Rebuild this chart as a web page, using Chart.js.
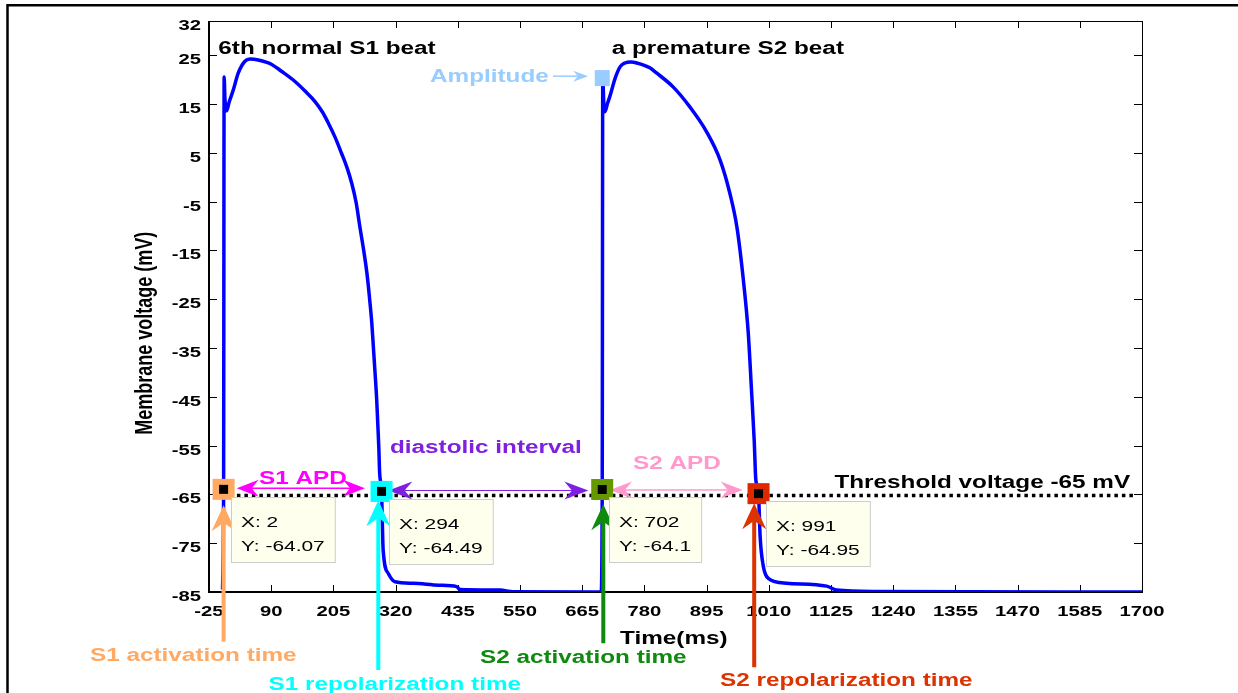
<!DOCTYPE html>
<html>
<head>
<meta charset="utf-8">
<title>Membrane voltage</title>
<script src="https://cdn.jsdelivr.net/npm/chart.js@4.4.1/dist/chart.umd.min.js"></script>
<style>
  html, body { margin: 0; padding: 0; background: #fff; }
  canvas { display: block; }
</style>
</head>
<body>
<canvas id="apChart" width="1238" height="693"></canvas>
<script>
// 6th S1 beat followed by a premature S2 beat
const timeMs = [
  0, 2, 3, 4.5, 7.7, 12, 20, 29, 41, 51, 66, 91, 109, 134, 153, 171, 185, 196, 208, 220,
  230, 239, 247, 254, 261, 267, 272, 276, 279, 282, 285, 287, 289, 290.5, 294, 297, 306.5,
  319, 352, 400, 433, 439, 513, 537, 680,
  700, 702, 703, 705, 707, 712, 716, 726, 735, 744, 755, 766, 790, 803, 833, 864, 895, 920, 938,
  951, 963, 972, 978, 983, 986, 991, 994, 1000, 1009, 1043, 1117, 1135, 1209, 1700
];
const voltage = [
  -84.5, -64.07, 20.5, 16, 13.6, 15.3, 17.9, 21.3, 23.7, 24.2, 24, 23.1, 21.7, 19.6, 17.6,
  15.5, 13.3, 11, 8.2, 4.9, 2, -1.3, -5.2, -10.2, -15, -19.7, -25, -29.9, -35, -40.1, -45.5,
  -50.4, -55.5, -60.6, -64.49, -76.4, -81.2, -82.9, -83.2, -83.6, -83.9, -84.5, -84.6, -84.95, -85,
  -85, -64.1, 20.3, 15, 13.4, 15.2, 16.5, 20.3, 22.6, 23.4, 23.6, 23.4, 22.4, 21.3, 18.5, 14.4, 9.3,
  3.5, -3.3, -10.2, -21.1, -31.9, -43.6, -53.9, -62, -64.95, -73.7, -79.8, -82.2, -83.2, -83.8,
  -84.6, -84.9, -85
];

const xTicks = [-25, 90, 205, 320, 435, 550, 665, 780, 895, 1010, 1125, 1240, 1355, 1470, 1585, 1700];
const yTicks = [32, 25, 15, 5, -5, -15, -25, -35, -45, -55, -65, -75, -85];

// data tips: activation / repolarization readouts
const tipTime = [2, 294, 702, 991];
const tipVolt = [-64.07, -64.49, -64.1, -64.95];
const tipColors = ['#ffa963', '#00ffff', '#669900', '#dd2800'];

const thresholdMv = -65;
const amplitudeIdx = timeMs.indexOf(703);

// annotation layout, in axis units
const labelText = ['S1 activation time', 'S1 repolarization time', 'S2 activation time', 'S2 repolarization time'];
const labelColors = ['#ffa963', '#00ffff', '#0e8a0e', '#dd3300'];
const labelAt = [[-245, -99.1], [85, -105.1], [476, -99.6], [920, -104.3]];
const arrowTime = [2, 288, 704, 983];
const arrowTail = [-95.2, -101, -95.5, -100.4];
const arrowTip = [-67.2, -66.2, -67, -66.8];
const arrowColors = ['#ffa963', '#00ffff', '#0e8a0e', '#dd3300'];

const SX = 1.35;
const FAMILY = '"Liberation Sans", Arial, sans-serif';

function wideText(ctx, str, x, y, font, color, align = 'left', rot = 0) {
  ctx.save();
  ctx.font = font;
  ctx.fillStyle = color;
  ctx.textAlign = align;
  ctx.textBaseline = 'alphabetic';
  ctx.translate(x, y);
  ctx.scale(SX, 1);
  if (rot) ctx.rotate(rot);
  ctx.fillText(str, 0, 0);
  ctx.restore();
}

// notched arrow head, returns the notch point where the shaft should stop
function head(ctx, tx, ty, ux, uy, len, wid) {
  const nx = -uy, ny = ux;
  const bx = tx - ux * len, by = ty - uy * len;
  const kx = tx - ux * len * 0.68, ky = ty - uy * len * 0.68;
  ctx.beginPath();
  ctx.moveTo(tx, ty);
  ctx.lineTo(bx + nx * wid / 2, by + ny * wid / 2);
  ctx.lineTo(kx, ky);
  ctx.lineTo(bx - nx * wid / 2, by - ny * wid / 2);
  ctx.closePath();
  ctx.fill();
  return [kx, ky];
}

function arrow(ctx, x1, y1, x2, y2, color, lw, len, wid, both) {
  const d = Math.hypot(x2 - x1, y2 - y1);
  const ux = (x2 - x1) / d, uy = (y2 - y1) / d;
  ctx.save();
  ctx.fillStyle = color;
  ctx.strokeStyle = color;
  ctx.lineWidth = lw;
  const e = head(ctx, x2, y2, ux, uy, len, wid);
  let s = [x1, y1];
  if (both) s = head(ctx, x1, y1, -ux, -uy, len, wid);
  ctx.beginPath();
  ctx.moveTo(s[0], s[1]);
  ctx.lineTo(e[0], e[1]);
  ctx.stroke();
  ctx.restore();
}

const figurePlugin = {
  id: 'figure',
  beforeDraw(chart) {
    const ctx = chart.ctx;
    ctx.save();
    ctx.fillStyle = '#fff';
    ctx.fillRect(0, 0, chart.width, chart.height);
    // outer figure frame
    ctx.strokeStyle = '#000';
    ctx.lineWidth = 2.5;
    ctx.beginPath();
    ctx.moveTo(7.5, chart.height);
    ctx.lineTo(7.5, 5.3);
    ctx.lineTo(chart.width, 5.3);
    ctx.stroke();
    ctx.restore();
  },
  beforeDatasetsDraw(chart) {
    const ctx = chart.ctx;
    const { left, right, top, bottom } = chart.chartArea;
    const xs = chart.scales.x, ys = chart.scales.y;
    ctx.save();
    // axes box
    ctx.strokeStyle = '#000';
    ctx.lineWidth = 1;
    ctx.strokeRect(left + 0.5, top + 0.5, right - left, bottom - top);
    ctx.lineWidth = 2;
    ctx.beginPath();
    ctx.moveTo(left, top);
    ctx.lineTo(left, bottom);
    ctx.lineTo(right, bottom);
    ctx.stroke();
    // inward ticks
    ctx.lineWidth = 1;
    ctx.beginPath();
    xs.ticks.forEach(t => {
      const x = Math.round(xs.getPixelForValue(t.value)) + 0.5;
      ctx.moveTo(x, bottom); ctx.lineTo(x, bottom - 7);
      ctx.moveTo(x, top); ctx.lineTo(x, top + 7);
    });
    ys.ticks.forEach(t => {
      const y = Math.round(ys.getPixelForValue(t.value)) + 0.5;
      ctx.moveTo(left, y); ctx.lineTo(left + 8, y);
      ctx.moveTo(right, y); ctx.lineTo(right - 8, y);
    });
    ctx.stroke();
    // tick labels
    const tf = 'bold 15px ' + FAMILY;
    xs.ticks.forEach(t => {
      wideText(ctx, String(t.value), xs.getPixelForValue(t.value), bottom + 24, tf, '#000', 'center');
    });
    ys.ticks.forEach(t => {
      wideText(ctx, String(t.value), left - 8, ys.getPixelForValue(t.value) + 9, tf, '#000', 'right');
    });
    // threshold line
    ctx.strokeStyle = '#000';
    ctx.lineWidth = 3.5;
    ctx.setLineDash([3.5, 4]);
    ctx.beginPath();
    const ty = ys.getPixelForValue(thresholdMv) + 1;
    ctx.moveTo(xs.getPixelForValue(-15), ty);
    ctx.lineTo(xs.getPixelForValue(1690), ty);
    ctx.stroke();
    ctx.restore();
  },
  afterDatasetsDraw(chart) {
    const ctx = chart.ctx;
    const xs = chart.scales.x, ys = chart.scales.y;
    const X = v => xs.getPixelForValue(v);
    const Y = v => ys.getPixelForValue(v);
    const big = 'bold 18px ' + FAMILY;

    // axis titles
    wideText(ctx, 'Time(ms)', X(735), Y(-95.6), big, '#000');
    wideText(ctx, 'Membrane voltage (mV)', X(-131), Y(-32), big, '#000', 'center', -Math.PI / 2);

    // beat captions
    wideText(ctx, '6th normal S1 beat', X(-7.8), Y(25.2), big, '#000');
    wideText(ctx, 'a premature S2 beat', X(719.5), Y(25.2), big, '#000');
    wideText(ctx, 'Threshold voltage -65 mV', X(1678), Y(-63.75), big, '#000', 'right');

    // amplitude marker
    ctx.save();
    ctx.fillStyle = '#99ccff';
    const ax = X(timeMs[amplitudeIdx]), ay = Y(voltage[amplitudeIdx]);
    ctx.fillRect(ax - 8, ay - 8, 15, 16);
    ctx.restore();
    arrow(ctx, X(611), Y(20.7), X(676), Y(20.7), '#99ccff', 1.5, 15, 11, false);
    wideText(ctx, 'Amplitude', X(383.6), Y(19.6), big, '#99ccff');

    // interval arrows
    arrow(ctx, X(26.2), Y(-63.75), X(263.4), Y(-63.75), '#ff00ff', 1.5, 22, 17, true);
    wideText(ctx, 'S1 APD', X(67.4), Y(-62.9), big, '#ff00ff');
    arrow(ctx, X(306.5), Y(-64.2), X(676.3), Y(-64.2), '#7f1fe0', 1, 24, 18, true);
    wideText(ctx, 'diastolic interval', X(309.6), Y(-56.5), big, '#7f1fe0');
    arrow(ctx, X(716.4), Y(-64.1), X(961.7), Y(-64.1), '#ff99cc', 1.5, 22, 17, true);
    wideText(ctx, 'S2 APD', X(758.9), Y(-59.7), big, '#ff99cc');

    // data tip markers
    tipTime.forEach((t, i) => {
      const px = X(t), py = Y(tipVolt[i]);
      ctx.fillStyle = tipColors[i];
      ctx.fillRect(px - 11, py - 11, 22, 21);
      ctx.fillStyle = '#000';
      ctx.fillRect(px - 4.5, py - 5, 9, 9);
    });

    // vertical arrows from the bottom labels
    arrowTime.forEach((t, i) => {
      arrow(ctx, X(t), Y(arrowTail[i]), X(t), Y(arrowTip[i]), arrowColors[i], 4, 26, 24, false);
      wideText(ctx, labelText[i], X(labelAt[i][0]), Y(labelAt[i][1]), big, labelColors[i]);
    });

    // data tip boxes
    const tipFont = '15.5px ' + FAMILY;
    tipTime.forEach((t, i) => {
      const px = X(t), py = Y(tipVolt[i]);
      const l1 = 'X: ' + t, l2 = 'Y: ' + tipVolt[i];
      ctx.save();
      ctx.font = tipFont;
      const w = Math.max(ctx.measureText(l1).width, ctx.measureText(l2).width) * SX + 20;
      const bx = Math.round(px + 7) + 0.5, by = Math.round(py + 7) + 0.5;
      ctx.fillStyle = '#ffffee';
      ctx.fillRect(bx, by, w, 65);
      ctx.strokeStyle = '#cccccc';
      ctx.lineWidth = 1;
      ctx.strokeRect(bx, by, w, 65);
      ctx.restore();
      wideText(ctx, l1, bx + 9.5, by + 29.5, tipFont, '#000');
      wideText(ctx, l2, bx + 9.5, by + 53, tipFont, '#000');
    });
  }
};

new Chart(document.getElementById('apChart'), {
  type: 'line',
  data: {
    datasets: [{
      data: timeMs.map((t, i) => ({ x: t, y: voltage[i] })),
      borderColor: '#0000ff',
      borderWidth: 3.5,
      pointRadius: 0,
      cubicInterpolationMode: 'monotone',
      fill: false
    }]
  },
  options: {
    responsive: false,
    animation: false,
    devicePixelRatio: 1,
    layout: { autoPadding: false, padding: { left: 209, right: 96, top: 21, bottom: 101 } },
    plugins: { legend: { display: false }, tooltip: { enabled: false } },
    scales: {
      x: {
        type: 'linear',
        min: -25,
        max: 1700,
        grid: { display: false },
        border: { display: false },
        ticks: { display: false },
        afterBuildTicks: s => { s.ticks = xTicks.map(v => ({ value: v })); },
        afterFit: s => { s.height = 0; }
      },
      y: {
        type: 'linear',
        min: -85,
        max: 32,
        grid: { display: false },
        border: { display: false },
        ticks: { display: false },
        afterBuildTicks: s => { s.ticks = yTicks.map(v => ({ value: v })); },
        afterFit: s => { s.width = 0; }
      }
    }
  },
  plugins: [figurePlugin]
});
</script>
</body>
</html>
